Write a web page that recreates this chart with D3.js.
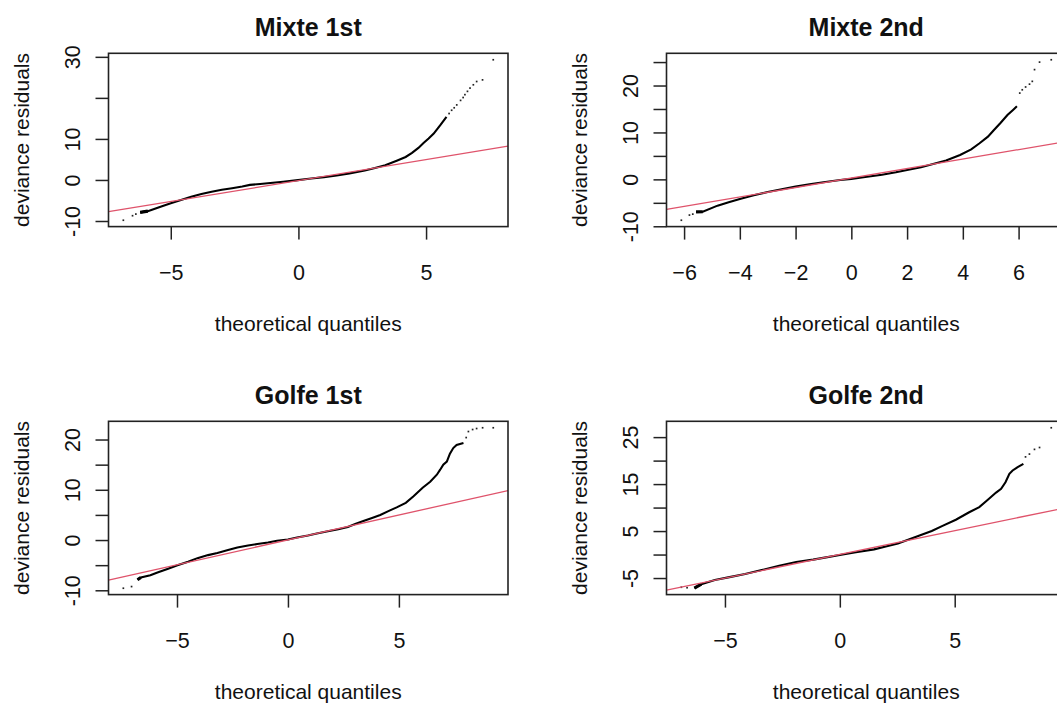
<!DOCTYPE html>
<html>
<head>
<meta charset="utf-8">
<script src="https://cdn.jsdelivr.net/npm/d3@7"></script>
<style>
  body { margin: 0; background: #fff; }
  text { font-family: "Liberation Sans", Arial, sans-serif; fill: #111; }
</style>
</head>
<body>
<svg id="chart" width="1057" height="704"></svg>
<script>
// QQ plots of deviance residuals, laid out like R's par(mfrow = c(2, 2))

var titles = ["Mixte 1st", "Mixte 2nd", "Golfe 1st", "Golfe 2nd"];

// Mixte 1st - dense part of the curve, then the sparse tail points
var mixte1X = [-6.2, -5.9, -5.4, -5.0, -4.6, -4.2, -3.8, -3.4, -3.0, -2.6, -2.2, -1.9, -1.5, -1.1, -0.6, -0.1, 0.5, 1.0, 1.5, 2.0, 2.6, 3.0, 3.4, 3.85, 4.2, 4.45, 4.7, 4.9, 5.1, 5.3, 5.55, 5.8];
var mixte1Y = [-7.9, -7.6, -6.5, -5.7, -4.9, -4.1, -3.4, -2.85, -2.4, -2.0, -1.6, -1.2, -1.0, -0.75, -0.45, -0.1, 0.35, 0.7, 1.1, 1.6, 2.3, 2.9, 3.6, 4.7, 5.6, 6.6, 7.8, 9.0, 10.1, 11.3, 13.3, 15.4];
var mixte1TailX = [-6.86, -6.5, -6.37, 5.9, 6.0, 6.1, 6.2, 6.35, 6.45, 6.52, 6.62, 6.72, 6.85, 6.98, 7.21, 7.63];
var mixte1TailY = [-9.8, -8.7, -8.3, 16.2, 17.0, 17.6, 18.3, 19.4, 20.1, 20.8, 21.6, 22.4, 23.2, 24.0, 24.4, 29.3];

// Mixte 2nd
var mixte2X = [-5.57, -5.33, -4.8, -4.4, -4.0, -3.5, -3.0, -2.5, -2.0, -1.5, -1.0, -0.4, 0.0, 0.5, 1.1, 1.6, 2.0, 2.5, 2.9, 3.4, 3.9, 4.3, 4.6, 4.9, 5.1, 5.35, 5.6, 5.8, 5.94];
var mixte2Y = [-6.95, -6.9, -5.6, -4.9, -4.2, -3.4, -2.7, -2.1, -1.55, -1.05, -0.6, -0.15, 0.1, 0.5, 1.0, 1.5, 2.0, 2.6, 3.2, 4.0, 5.2, 6.4, 7.7, 9.1, 10.4, 12.0, 13.7, 14.8, 15.6];
var mixte2TailX = [-6.1, -5.81, -5.69, 6.04, 6.13, 6.25, 6.39, 6.49, 6.57, 6.75, 7.17];
var mixte2TailY = [-8.7, -7.6, -7.4, 18.4, 19.1, 19.7, 20.3, 20.9, 23.4, 25.0, 25.5];

// Golfe 1st
var golfe1X = [-6.78, -6.63, -6.2, -5.88, -5.4, -4.98, -4.5, -4.08, -3.6, -3.18, -2.7, -2.28, -1.8, -1.38, -0.9, -0.49, 0.0, 0.41, 0.9, 1.3, 1.8, 2.27, 2.7, 3.03, 3.4, 3.79, 4.16, 4.55, 4.9, 5.31, 5.66, 6.07, 6.41, 6.71, 6.86, 7.0, 7.16, 7.3, 7.45, 7.6, 7.91];
var golfe1Y = [-7.9, -7.45, -7.0, -6.45, -5.7, -5.0, -4.3, -3.6, -3.0, -2.6, -2.0, -1.5, -1.1, -0.8, -0.5, -0.15, 0.1, 0.5, 0.9, 1.3, 1.75, 2.15, 2.6, 3.2, 3.8, 4.4, 5.0, 5.8, 6.5, 7.4, 8.7, 10.4, 11.6, 13.0, 14.0, 15.0, 15.6, 17.2, 18.3, 18.9, 19.3];
var golfe1TailX = [-7.42, -7.05, 8.03, 8.13, 8.32, 8.5, 8.77, 9.25];
var golfe1TailY = [-9.58, -9.25, 20.4, 21.6, 22.0, 22.2, 22.35, 22.35];

// Golfe 2nd
var golfe2X = [-6.33, -6.03, -5.44, -4.8, -4.12, -3.4, -2.64, -1.9, -1.16, -0.6, 0.0, 0.7, 1.49, 2.0, 2.53, 3.0, 3.5, 4.0, 4.47, 5.05, 5.63, 6.07, 6.43, 6.8, 7.02, 7.21, 7.38, 7.52, 7.74, 7.99];
var golfe2Y = [-7.16, -6.3, -5.4, -4.8, -4.15, -3.3, -2.37, -1.6, -1.08, -0.6, -0.08, 0.5, 1.1, 1.7, 2.35, 3.2, 4.1, 5.0, 6.1, 7.4, 9.0, 10.1, 11.6, 13.2, 14.0, 15.4, 17.2, 17.9, 18.6, 19.3];
var golfe2TailX = [-6.9, -6.65, 8.08, 8.25, 8.47, 8.69, 9.2];
var golfe2TailY = [-6.95, -7.05, 20.8, 21.4, 22.4, 22.8, 27.0];

// qqline of each panel
var refIntercepts = [-0.15, 0.28, 0.03, 0.03];
var refSlopes = [1.02, 1.01, 0.99, 1.01];

var xTicks = [[-5, 0, 5], [-6, -4, -2, 0, 2, 4, 6], [-5, 0, 5], [-5, 0, 5]];
var yTicks = [[-10, 0, 10, 20, 30], [-10, -5, 0, 5, 10, 15, 20, 25], [-10, -5, 0, 5, 10, 15, 20], [-5, 0, 5, 10, 15, 20, 25]];
// R drops the labels that would overlap, so only some ticks get one
var yTickLabels = [[-10, 0, 10, 30], [-10, 0, 10, 20], [-10, 0, 10, 20], [-5, 5, 15, 25]];

var panels = [
  { cx: mixte1X, cy: mixte1Y, tx: mixte1TailX, ty: mixte1TailY },
  { cx: mixte2X, cy: mixte2Y, tx: mixte2TailX, ty: mixte2TailY },
  { cx: golfe1X, cy: golfe1Y, tx: golfe1TailX, ty: golfe1TailY },
  { cx: golfe2X, cy: golfe2Y, tx: golfe2TailX, ty: golfe2TailY }
];

var svg = d3.select("#chart");
svg.append("rect").attr("width", 1057).attr("height", 704).attr("fill", "#fff");

var colOffset = [0, 558], rowOffset = [0, 368];
var box = { left: 108.5, top: 53.3, width: 399.5, height: 173.3 };

// R pads the data range by 4% on each side
function rRange(vals) {
  var e = d3.extent(vals), pad = (e[1] - e[0]) * 0.04;
  return [e[0] - pad, e[1] + pad];
}

panels.forEach(function(p, i) {
  var ox = colOffset[i % 2], oy = rowOffset[Math.floor(i / 2)];
  var g = svg.append("g").attr("transform", "translate(" + (ox + box.left) + "," + (oy + box.top) + ")");

  var x = d3.scaleLinear().domain(rRange(p.cx.concat(p.tx))).range([0, box.width]);
  var y = d3.scaleLinear().domain(rRange(p.cy.concat(p.ty))).range([box.height, 0]);

  var clipId = "clip" + i;
  g.append("clipPath").attr("id", clipId)
    .append("rect").attr("width", box.width).attr("height", box.height);

  var plot = g.append("g").attr("clip-path", "url(#" + clipId + ")");

  // points
  var pts = d3.range(p.cx.length).map(function(k) { return [p.cx[k], p.cy[k]]; });
  var line = d3.line().x(function(d) { return x(d[0]); }).y(function(d) { return y(d[1]); });
  plot.append("path")
    .attr("d", line(pts))
    .attr("fill", "none")
    .attr("stroke", "#000")
    .attr("stroke-width", 2.1);

  // first stretch is a pile of tied values, drawn thicker
  plot.append("path")
    .attr("d", line(pts.slice(0, 2)))
    .attr("stroke", "#000")
    .attr("stroke-width", 3.2);

  plot.selectAll("rect.tail")
    .data(d3.range(p.tx.length))
    .enter()
    .append("rect")
    .attr("class", "tail")
    .attr("x", function(k) { return x(p.tx[k]) - 0.8; })
    .attr("y", function(k) { return y(p.ty[k]) - 0.8; })
    .attr("width", 1.7)
    .attr("height", 1.7)
    .attr("fill", "#222");

  // qqline
  var xd = x.domain();
  plot.append("line")
    .attr("x1", x(xd[0])).attr("x2", x(xd[1]))
    .attr("y1", y(refIntercepts[i] + refSlopes[i] * xd[0]))
    .attr("y2", y(refIntercepts[i] + refSlopes[i] * xd[1]))
    .attr("stroke", "#DF536B")
    .attr("stroke-width", 1.3);

  // box
  g.append("rect")
    .attr("width", box.width).attr("height", box.height)
    .attr("fill", "none").attr("stroke", "#222").attr("stroke-width", 1.6);

  // x axis
  var xa = g.append("g")
    .attr("transform", "translate(0," + box.height + ")")
    .call(d3.axisBottom(x).tickValues(xTicks[i]).tickSize(13).tickFormat(d3.format("d")));
  xa.select(".domain").remove();
  xa.selectAll("line").attr("stroke", "#222").attr("stroke-width", 1.5);
  xa.selectAll("text")
    .attr("y", 53.5).attr("dy", null)
    .attr("fill", "#111")
    .style("font-size", "21.5px");

  // y axis with rotated labels
  var ya = g.append("g")
    .call(d3.axisLeft(y).tickValues(yTicks[i]).tickSize(13).tickFormat(function(v) {
      return yTickLabels[i].indexOf(v) >= 0 ? String(v) : "";
    }));
  ya.select(".domain").remove();
  ya.selectAll("line").attr("stroke", "#222").attr("stroke-width", 1.5);
  ya.selectAll("text")
    .attr("x", 0).attr("y", -28.5).attr("dy", null)
    .attr("text-anchor", "middle")
    .attr("transform", "rotate(-90)")
    .attr("fill", "#111")
    .style("font-size", "21.5px");

  // titles and axis labels
  g.append("text")
    .attr("x", box.width / 2).attr("y", 36 - box.top)
    .attr("text-anchor", "middle")
    .style("font-size", "25px").style("font-weight", "bold")
    .text(titles[i]);

  g.append("text")
    .attr("x", box.width / 2).attr("y", 331 - box.top)
    .attr("text-anchor", "middle")
    .style("font-size", "21px")
    .text("theoretical quantiles");

  g.append("text")
    .attr("transform", "translate(" + (28.5 - box.left) + "," + (box.height / 2) + ") rotate(-90)")
    .attr("text-anchor", "middle")
    .style("font-size", "21px")
    .text("deviance residuals");
});
</script>
</body>
</html>
